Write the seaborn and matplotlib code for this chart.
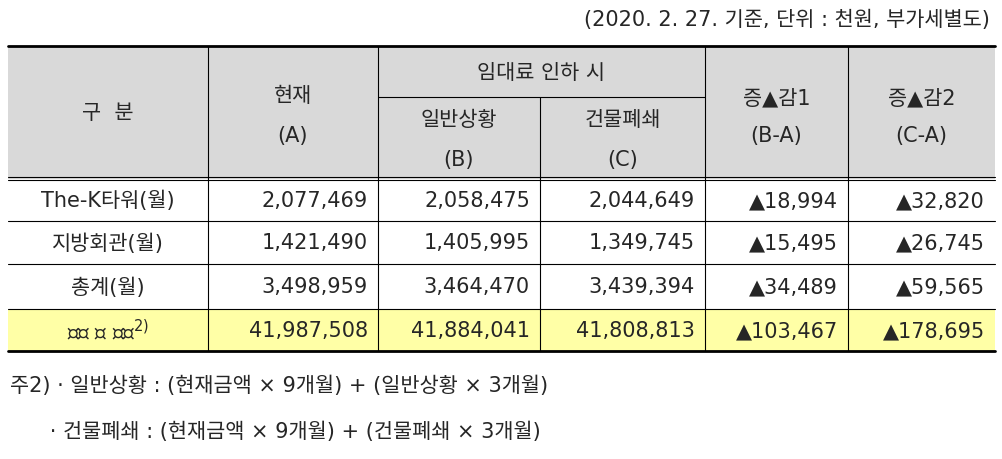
import matplotlib
matplotlib.use("Agg")
import matplotlib.pyplot as plt
import seaborn as sns
from matplotlib.patches import Rectangle

sns.set_style("white")
plt.rcParams["font.family"] = ["DejaVu Sans", "Noto Sans CJK KR"]

# table data
row_labels = ["The-K타워(월)", "지방회관(월)", "총계(월)", "총계 연 환산$^{2)}$"]
current = ["2,077,469", "1,421,490", "3,498,959", "41,987,508"]
normal = ["2,058,475", "1,405,995", "3,464,470", "41,884,041"]
closure = ["2,044,649", "1,349,745", "3,439,394", "41,808,813"]
diff1 = ["▲18,994", "▲15,495", "▲34,489", "▲103,467"]
diff2 = ["▲32,820", "▲26,745", "▲59,565", "▲178,695"]

title = "(2020. 2. 27. 기준, 단위 : 천원, 부가세별도)"
notes = ["주2) · 일반상황 : (현재금액 × 9개월) + (일반상황 × 3개월)",
         "      · 건물폐쇄 : (현재금액 × 9개월) + (건물폐쇄 × 3개월)"]

# layout (pixels)
col_x = [8, 208, 378, 540, 705, 848, 995]
top, mid, head_bot = 47, 98, 180
row_y = [180, 222, 265, 310, 352]
HEAD = "#d9d9d9"
HIGHLIGHT = "#ffffa6"
FS = 15

fig = plt.figure(figsize=(10.02, 4.6), dpi=100)
ax = fig.add_axes([0, 0, 1, 1])
ax.set_xlim(0, 1002)
ax.set_ylim(460, 0)
ax.axis("off")

ax.add_patch(Rectangle((col_x[0], top), col_x[-1] - col_x[0], head_bot - top, color=HEAD, lw=0))
ax.add_patch(Rectangle((col_x[0], row_y[3]), col_x[-1] - col_x[0], row_y[4] - row_y[3], color=HIGHLIGHT, lw=0))

# lines
ax.plot([col_x[0], col_x[-1]], [top, top], color="black", lw=2)
ax.plot([col_x[0], col_x[-1]], [row_y[-1], row_y[-1]], color="black", lw=2)
ax.plot([col_x[2], col_x[4]], [mid, mid], color="black", lw=0.8)
ax.plot([col_x[0], col_x[-1]], [head_bot - 2, head_bot - 2], color="black", lw=0.8)
ax.plot([col_x[0], col_x[-1]], [head_bot + 1, head_bot + 1], color="black", lw=0.8)
for y in row_y[1:-1]:
    ax.plot([col_x[0], col_x[-1]], [y, y], color="black", lw=0.8)
for i, x in enumerate(col_x[1:-1], start=1):
    y0 = mid if i == 3 else top
    ax.plot([x, x], [y0, row_y[-1]], color="black", lw=0.8)

# header
kw = dict(ha="center", va="center", fontsize=FS)
ax.text((col_x[0] + col_x[1]) / 2, 113, "구  분", **kw)
ax.text((col_x[1] + col_x[2]) / 2, 96, "현재", **kw)
ax.text((col_x[1] + col_x[2]) / 2, 136, "(A)", **kw)
ax.text((col_x[2] + col_x[4]) / 2, 73, "임대료 인하 시", **kw)
ax.text((col_x[2] + col_x[3]) / 2, 120, "일반상황", **kw)
ax.text((col_x[2] + col_x[3]) / 2, 160, "(B)", **kw)
ax.text((col_x[3] + col_x[4]) / 2, 120, "건물폐쇄", **kw)
ax.text((col_x[3] + col_x[4]) / 2, 160, "(C)", **kw)
ax.text((col_x[4] + col_x[5]) / 2, 98, "증▲감1", **kw)
ax.text((col_x[4] + col_x[5]) / 2, 136, "(B-A)", **kw)
ax.text((col_x[5] + col_x[6]) / 2, 98, "증▲감2", **kw)
ax.text((col_x[5] + col_x[6]) / 2, 136, "(C-A)", **kw)

# body
cols = [current, normal, closure, diff1, diff2]
for r, lab in enumerate(row_labels):
    yc = (row_y[r] + row_y[r + 1]) / 2
    ax.text((col_x[0] + col_x[1]) / 2, yc, lab, ha="center", va="center", fontsize=FS)
    for c, vals in enumerate(cols):
        ax.text(col_x[c + 2] - 10, yc, vals[r], ha="right", va="center", fontsize=FS)

ax.text(990, 20, title, ha="right", va="center", fontsize=FS)
ax.text(10, 386, notes[0], ha="left", va="center", fontsize=FS)
ax.text(10, 432, notes[1], ha="left", va="center", fontsize=FS)

fig.savefig("out.png", dpi=100)
